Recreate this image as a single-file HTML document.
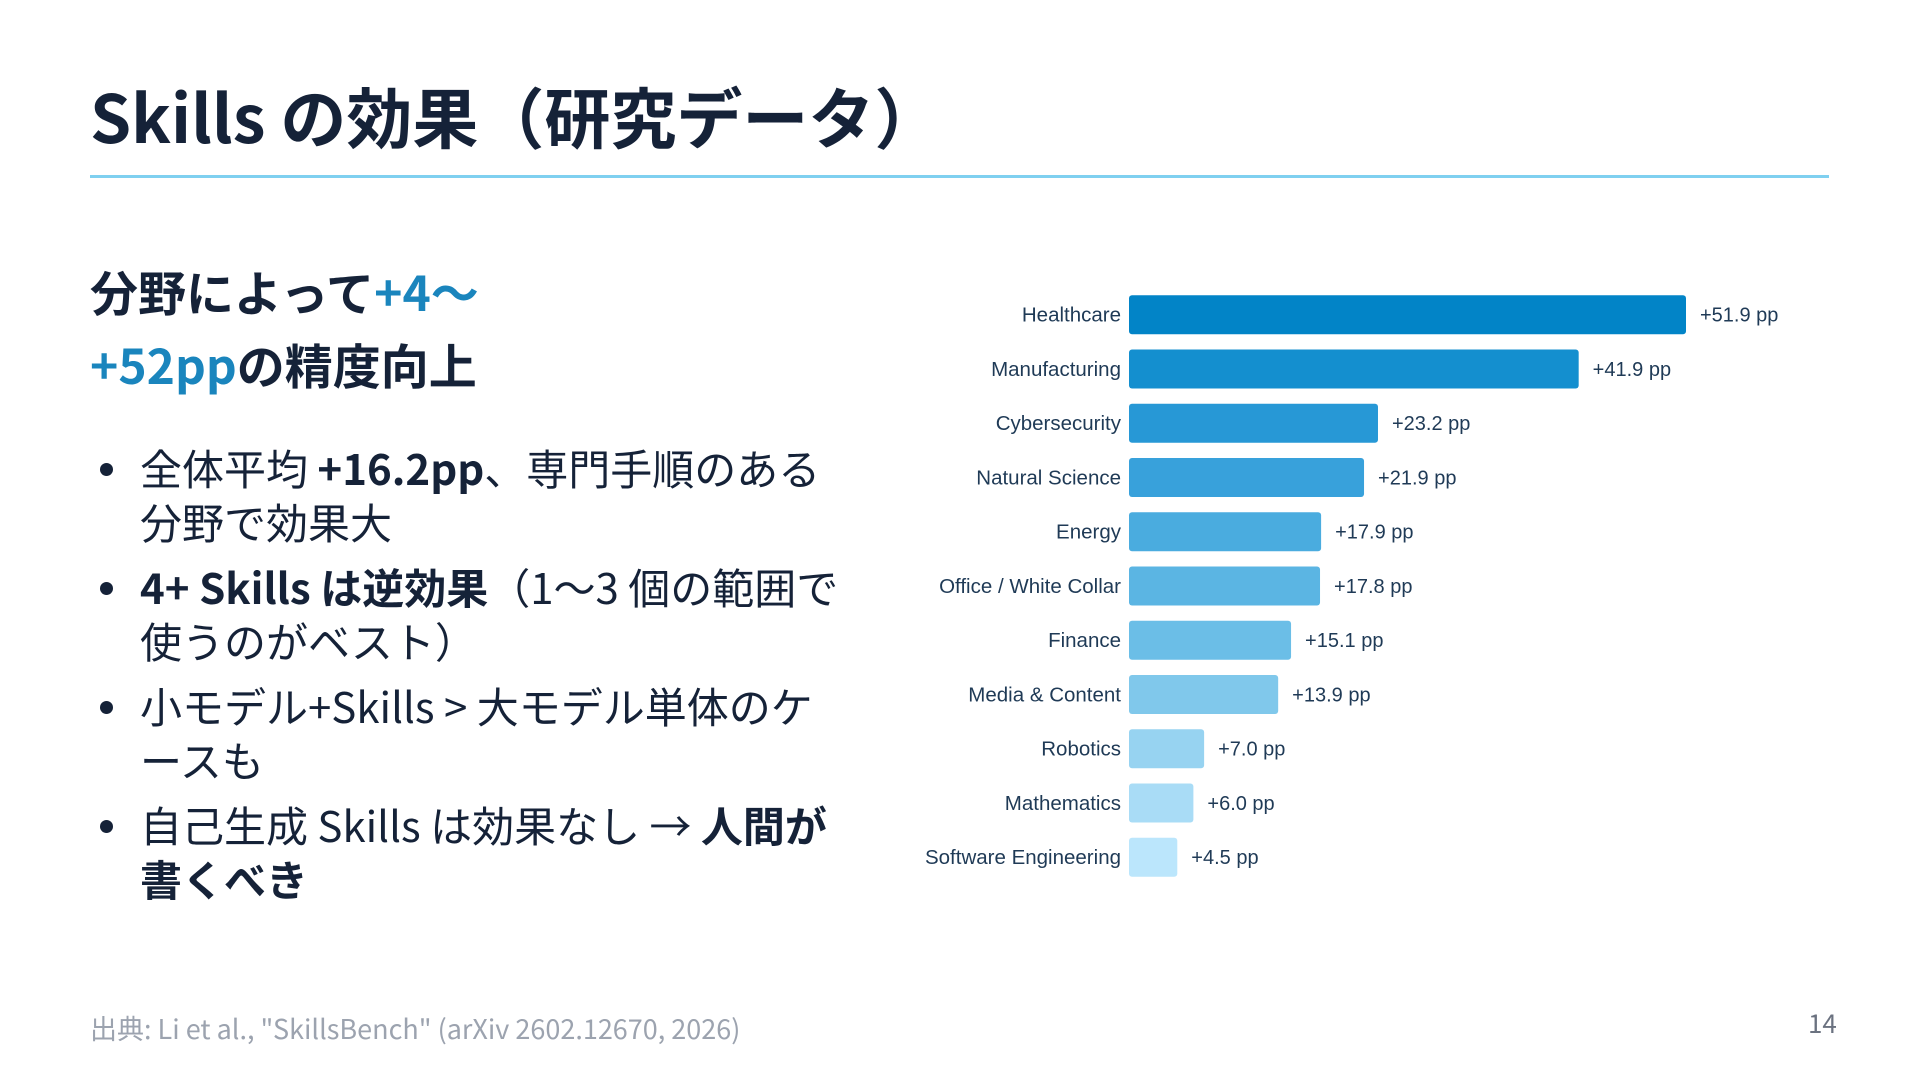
<!DOCTYPE html>
<html><head><meta charset="utf-8">
<style>
html,body{margin:0;padding:0;background:#fff;}
body{width:1920px;height:1080px;position:relative;overflow:hidden;font-family:"Noto Sans CJK JP","Liberation Sans",sans-serif;color:#152238;}
.title{position:absolute;left:90px;top:69px;font-size:66px;font-weight:700;line-height:92px;margin:0;letter-spacing:0px;}
.rule{position:absolute;left:90px;top:175px;width:1739px;height:3px;background:#7fd0f0;}
.sub{position:absolute;left:90px;top:254px;font-size:48px;font-weight:700;line-height:73px;margin:0;}
.sub .hl{color:#1a85bd;}
ul{position:absolute;left:90px;top:441px;margin:0;padding:0;list-style:none;font-size:42px;line-height:54px;}
li{position:relative;padding-left:50px;margin-bottom:11px;}
li::before{content:"";position:absolute;left:10px;top:22px;width:13px;height:13px;border-radius:50%;background:#152238;}
b{font-weight:700;}
.foot{position:absolute;left:90px;top:1008px;font-size:27px;color:#9ca3af;}
.pg{position:absolute;left:1808px;top:1004px;font-size:26px;color:#6b7280;}
svg{position:absolute;left:0;top:0;}
</style></head>
<body>
<h1 class="title">Skills の効果（研究データ）</h1>
<div class="rule"></div>
<h2 class="sub">分野によって<span class="hl">+4〜</span><br><span class="hl">+52pp</span>の精度向上</h2>
<ul>
<li>全体平均 <b>+16.2pp</b>、専門手順のある<br>分野で効果大</li>
<li><b>4+ Skills は逆効果</b>（1〜3 個の範囲で<br>使うのがベスト）</li>
<li>小モデル+Skills &gt; 大モデル単体のケ<br>ースも</li>
<li>自己生成 Skills は効果なし → <b>人間が<br>書くべき</b></li>
</ul>
<div class="foot">出典: Li et al., "SkillsBench" (arXiv 2602.12670, 2026)</div>
<div class="pg">14</div>
<svg id="chart" width="1920" height="1080"></svg>
<script>
const categories = ["Healthcare","Manufacturing","Cybersecurity","Natural Science","Energy","Office / White Collar","Finance","Media & Content","Robotics","Mathematics","Software Engineering"];
const values = [51.9,41.9,23.2,21.9,17.9,17.8,15.1,13.9,7.0,6.0,4.5];
const valueLabels = ["+51.9 pp","+41.9 pp","+23.2 pp","+21.9 pp","+17.9 pp","+17.8 pp","+15.1 pp","+13.9 pp","+7.0 pp","+6.0 pp","+4.5 pp"];
const barColors = ["#0284c7","#148fcf","#2798d6","#38a1db","#4aacdf","#5bb5e3","#6bbee7","#80c8eb","#97d3f1","#a9dcf6","#bbe6fc"];

const svg = document.getElementById('chart');
const NS = 'http://www.w3.org/2000/svg';
const x0 = 1129, pxPerUnit = 557/51.9;
const yTop = 314.7, step = 54.25, barH = 39;
const xScale = v => v * pxPerUnit;
const yScale = i => yTop + i * step;

categories.forEach((c, i) => {
  const cy = yScale(i);
  const w = xScale(values[i]);
  const r = document.createElementNS(NS, 'rect');
  r.setAttribute('x', x0); r.setAttribute('y', cy - barH/2);
  r.setAttribute('width', w); r.setAttribute('height', barH);
  r.setAttribute('rx', 3); r.setAttribute('fill', barColors[i]);
  
  
  svg.appendChild(r);

  const t = document.createElementNS(NS, 'text');
  t.setAttribute('x', x0 - 8); t.setAttribute('y', cy + 7);
  t.setAttribute('text-anchor', 'end');
  t.setAttribute('font-family', '"Liberation Sans", sans-serif');
  t.setAttribute('font-size', '20.5'); t.setAttribute('fill', '#1f3a56');
  t.textContent = c;
  
  
  svg.appendChild(t);

  const v = document.createElementNS(NS, 'text');
  v.setAttribute('x', x0 + w + 14); v.setAttribute('y', cy + 7);
  v.setAttribute('font-family', '"Liberation Sans", sans-serif');
  v.setAttribute('font-size', '20'); v.setAttribute('fill', '#1f3a56');
  v.textContent = valueLabels[i];
  
  
  svg.appendChild(v);
});
</script>
</body></html>
